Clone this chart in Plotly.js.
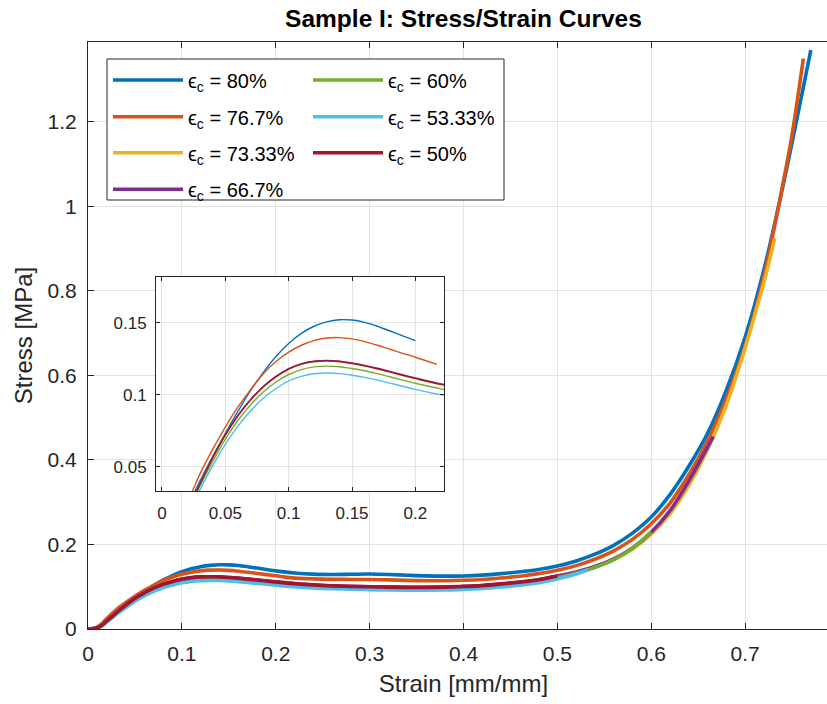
<!DOCTYPE html>
<html><head><meta charset="utf-8">
<script src="https://cdn.plot.ly/plotly-3.0.1.min.js"></script>
<style>html,body{margin:0;padding:0;overflow:hidden;background:#fff;width:827px;height:704px}#chart{width:860px;height:704px}</style>
</head><body><div id="chart"></div><script>
// ---- data ----
const seriesNames = ['ϵ<sub>c</sub> = 80%','ϵ<sub>c</sub> = 76.7%','ϵ<sub>c</sub> = 73.33%','ϵ<sub>c</sub> = 66.7%','ϵ<sub>c</sub> = 60%','ϵ<sub>c</sub> = 53.33%','ϵ<sub>c</sub> = 50%'];
const seriesColors = ['#0072BD','#D95319','#EDB120','#7E2F8E','#77AC30','#4DBEEE','#A2142F'];

const strain80 = [0,0.005,0.01,0.015,0.02,0.025,0.03,0.04,0.05,0.06,0.07,0.08,0.09,0.1,0.11,0.12,0.13,0.14,0.15,0.16,0.17,0.18,0.19,0.2,0.22,0.24,0.26,0.28,0.3,0.32,0.34,0.36,0.38,0.4,0.42,0.44,0.46,0.48,0.5,0.52,0.54,0.56,0.58,0.6,0.62,0.64,0.66,0.68,0.7,0.72,0.74,0.755,0.77];
const stress80 = [0,0.001,0.004,0.0115,0.0215,0.031,0.040,0.057,0.073,0.0885,0.103,0.1155,0.1265,0.1355,0.1425,0.1475,0.1505,0.152,0.1518,0.1502,0.1475,0.1442,0.1408,0.1375,0.1325,0.1298,0.129,0.1295,0.130,0.129,0.1272,0.1257,0.125,0.1255,0.1275,0.131,0.1355,0.141,0.149,0.161,0.177,0.198,0.227,0.265,0.318,0.385,0.463,0.565,0.69,0.85,1.045,1.205,1.37];

const strain767 = [0,0.005,0.01,0.015,0.02,0.025,0.03,0.04,0.05,0.06,0.07,0.08,0.09,0.1,0.11,0.12,0.13,0.14,0.15,0.16,0.17,0.18,0.19,0.2,0.217,0.24,0.26,0.28,0.3,0.32,0.34,0.36,0.38,0.4,0.42,0.44,0.46,0.48,0.5,0.52,0.54,0.56,0.58,0.6,0.62,0.64,0.66,0.68,0.7,0.72,0.74,0.75,0.762];
const stress767 = [0,0.001,0.0045,0.013,0.025,0.035,0.045,0.062,0.0775,0.0915,0.1035,0.1145,0.123,0.1295,0.1343,0.1375,0.1393,0.1396,0.1387,0.1368,0.1343,0.1315,0.1287,0.126,0.121,0.1185,0.1175,0.1172,0.117,0.1162,0.115,0.1143,0.1143,0.1152,0.117,0.1205,0.125,0.131,0.139,0.15,0.165,0.185,0.212,0.249,0.298,0.365,0.445,0.545,0.67,0.835,1.05,1.17,1.35];

const strain7333 = [0,0.005,0.01,0.015,0.02,0.025,0.03,0.04,0.05,0.06,0.07,0.08,0.09,0.1,0.11,0.12,0.13,0.14,0.15,0.16,0.17,0.18,0.19,0.2,0.22,0.24,0.26,0.28,0.3,0.32,0.34,0.36,0.38,0.4,0.42,0.44,0.46,0.48,0.5,0.52,0.54,0.56,0.58,0.6,0.62,0.64,0.66,0.68,0.7,0.72,0.7316];
const stress7333 = [0,0.0005,0.003,0.009,0.019,0.0285,0.038,0.0558,0.0718,0.0853,0.0963,0.1053,0.1123,0.1176,0.121,0.1228,0.1233,0.1228,0.1215,0.1198,0.1178,0.1156,0.1133,0.1111,0.107,0.1038,0.1018,0.1005,0.0996,0.0988,0.0983,0.0983,0.099,0.1003,0.1025,0.1062,0.1105,0.116,0.1235,0.1335,0.1465,0.164,0.189,0.225,0.273,0.34,0.425,0.53,0.665,0.82,0.925];

const strain667 = [0,0.005,0.01,0.015,0.02,0.025,0.03,0.04,0.05,0.06,0.07,0.08,0.09,0.1,0.11,0.12,0.13,0.14,0.15,0.16,0.17,0.18,0.19,0.2,0.22,0.24,0.26,0.28,0.3,0.32,0.34,0.36,0.38,0.4,0.42,0.44,0.46,0.48,0.5,0.52,0.54,0.56,0.58,0.6,0.62,0.64,0.666];
const stress667 = [0,0.0005,0.003,0.009,0.019,0.0285,0.038,0.0562,0.0722,0.0857,0.0967,0.1057,0.1127,0.118,0.1215,0.1233,0.1238,0.1233,0.122,0.1203,0.1183,0.1161,0.1138,0.1116,0.1075,0.1043,0.1023,0.101,0.1001,0.0993,0.0988,0.0988,0.0995,0.1008,0.103,0.1067,0.111,0.1167,0.1255,0.135,0.148,0.166,0.192,0.229,0.28,0.35,0.455];

const strain60 = [0,0.005,0.01,0.015,0.02,0.025,0.03,0.04,0.05,0.06,0.07,0.08,0.09,0.1,0.11,0.12,0.13,0.14,0.15,0.16,0.17,0.18,0.19,0.2,0.22,0.24,0.26,0.28,0.3,0.32,0.34,0.36,0.38,0.4,0.42,0.44,0.46,0.48,0.5,0.52,0.54,0.56,0.58,0.6];
const stress60 = [0,0.0005,0.003,0.0085,0.018,0.027,0.0365,0.0535,0.069,0.0822,0.093,0.1018,0.1088,0.114,0.1174,0.1193,0.1198,0.1194,0.1182,0.1166,0.1146,0.1124,0.1101,0.1079,0.104,0.101,0.099,0.0977,0.0968,0.096,0.0955,0.0955,0.0962,0.0975,0.0997,0.1032,0.1075,0.1133,0.1215,0.132,0.1455,0.164,0.191,0.23];

const strain5333 = [0,0.005,0.01,0.015,0.02,0.025,0.03,0.04,0.05,0.06,0.07,0.08,0.09,0.1,0.11,0.12,0.13,0.14,0.15,0.16,0.17,0.18,0.19,0.2,0.22,0.24,0.26,0.28,0.3,0.32,0.34,0.36,0.38,0.4,0.42,0.44,0.46,0.48,0.5,0.52,0.533];
const stress5333 = [0,0.0005,0.0028,0.008,0.0165,0.025,0.034,0.0505,0.0655,0.0782,0.0888,0.0975,0.1043,0.1095,0.1127,0.1145,0.115,0.1146,0.1135,0.112,0.1101,0.108,0.1058,0.1037,0.1,0.0972,0.0953,0.094,0.0931,0.0923,0.0918,0.0918,0.0925,0.0938,0.096,0.0995,0.1038,0.1095,0.1185,0.13,0.141];

const strain50 = [0,0.005,0.01,0.015,0.02,0.025,0.03,0.04,0.05,0.06,0.07,0.08,0.09,0.1,0.11,0.12,0.13,0.14,0.15,0.16,0.17,0.18,0.19,0.2,0.22,0.24,0.26,0.28,0.3,0.32,0.34,0.36,0.38,0.4,0.42,0.44,0.46,0.48,0.5];
const stress50 = [0,0.0005,0.003,0.009,0.019,0.0285,0.038,0.056,0.072,0.0855,0.0965,0.1055,0.1125,0.1178,0.1212,0.123,0.1235,0.123,0.1217,0.12,0.118,0.1158,0.1135,0.1113,0.1072,0.104,0.102,0.1007,0.0998,0.099,0.0985,0.0985,0.0992,0.1005,0.1027,0.1065,0.1108,0.1165,0.1255];

// strain at which each series stops in the inset plot
const insetEnd = [0.2, 0.217, 1, 1, 1, 1, 1];

const xTicks = [0,0.1,0.2,0.3,0.4,0.5,0.6,0.7];
const yTicks = [0,0.2,0.4,0.6,0.8,1,1.2];
const insetXTicks = [0,0.05,0.1,0.15,0.2];
const insetYTicks = [0.05,0.1,0.15];

const allStrain = [strain80,strain767,strain7333,strain667,strain60,strain5333,strain50];
const allStress = [stress80,stress767,stress7333,stress667,stress60,stress5333,stress50];

// ---- geometry helpers (pixel -> paper) ----
const W = 860, H = 704, ML = 88, MR = 21, MT = 42, MB = 75;
const PW = W - ML - MR, PH = H - MT - MB;
const px = v => (v - ML) / PW;
const py = v => 1 - (v - MT) / PH;

const FONT = 'Liberation Sans, Arial, Helvetica, sans-serif';
const traces = [];
const legendRows = [80, 116.7, 152.7, 189.3];
const legendCols = [108, 308];
const legends = {};
for (let i = 0; i < 7; i++) {
  const lname = i === 0 ? 'legend' : 'legend' + (i + 1);
  const col = i < 4 ? 0 : 1, row = i < 4 ? i : i - 4;
  legends[lname] = {
    x: px(legendCols[col]), y: py(legendRows[row]), xanchor: 'left', yanchor: 'middle',
    bgcolor: 'rgba(0,0,0,0)', borderwidth: 0, itemwidth: 70,
    font: {family: FONT, size: 20, color: '#000'}, itemclick: false
  };
  traces.push({
    type: 'scatter', mode: 'lines', x: allStrain[i], y: allStress[i],
    name: seriesNames[i], legend: lname,
    line: {color: seriesColors[i], width: 3.6, shape: 'spline', smoothing: 1},
    xaxis: 'x', yaxis: 'y', hoverinfo: 'skip'
  });
}
for (let i = 0; i < 7; i++) {
  const xs = [], ys = [];
  allStrain[i].forEach((s, k) => { if (s <= insetEnd[i] + 1e-9) { xs.push(s); ys.push(allStress[i][k]); } });
  traces.push({
    type: 'scatter', mode: 'lines', x: xs, y: ys, showlegend: false,
    line: {color: seriesColors[i], width: 1.4, shape: 'spline', smoothing: 1},
    xaxis: 'x2', yaxis: 'y2', hoverinfo: 'skip'
  });
}

const axCommon = {
  ticks: 'inside', ticklen: 6, tickcolor: '#262626', tickwidth: 1,
  showline: true, linecolor: '#262626', linewidth: 1, mirror: 'ticks',
  showgrid: true, gridcolor: '#e3e3e3', gridwidth: 1, zeroline: false,
  tickfont: {family: FONT, color: '#262626'}
};

const layout = Object.assign({
  width: W, height: H,
  margin: {l: ML, r: MR, t: MT, b: MB},
  paper_bgcolor: '#fff', plot_bgcolor: '#fff',
  font: {family: FONT, color: '#262626'},
  title: {text: 'Sample I: Stress/Strain Curves', font: {family: FONT, size: 24.5, weight: 'bold', color: '#000'},
          x: 0.5, xref: 'paper', xanchor: 'center', y: 1 - 18 / H, yref: 'container', yanchor: 'middle'},
  xaxis: Object.assign({}, axCommon, {range: [0, 0.8], tickvals: xTicks, domain: [0, 1], anchor: 'y',
    tickfont: {family: FONT, size: 21, color: '#262626'}, ticklabelstandoff: 6,
    title: {text: 'Strain [mm/mm]', font: {family: FONT, size: 24, color: '#262626'}, standoff: 10}}),
  yaxis: Object.assign({}, axCommon, {range: [0, 1.389], tickvals: yTicks, domain: [0, 1], anchor: 'x',
    tickfont: {family: FONT, size: 21, color: '#262626'}, ticklabelstandoff: 6,
    title: {text: 'Stress [MPa]', font: {family: FONT, size: 24, color: '#262626'}, standoff: 8}}),
  xaxis2: Object.assign({}, axCommon, {range: [-0.0047, 0.2226], tickvals: insetXTicks, anchor: 'y2',
    domain: [px(156), px(444)], mirror: 'allticks', ticklen: 4,
    tickfont: {family: FONT, size: 17, color: '#262626'}, ticklabelstandoff: 7}),
  yaxis2: Object.assign({}, axCommon, {range: [0.0331, 0.1817], tickvals: insetYTicks, anchor: 'x2',
    domain: [py(491), py(277)], mirror: 'allticks', ticklen: 4,
    tickfont: {family: FONT, size: 17, color: '#262626'}, ticklabelstandoff: 5}),
  shapes: [{type: 'rect', xref: 'paper', yref: 'paper', x0: px(107), x1: px(504), y0: py(200), y1: py(59),
            line: {color: '#262626', width: 1}, fillcolor: '#fff', layer: 'above'}],
  showlegend: true
}, legends);

Plotly.newPlot('chart', traces, layout, {staticPlot: true, displayModeBar: false});
</script></body></html>
